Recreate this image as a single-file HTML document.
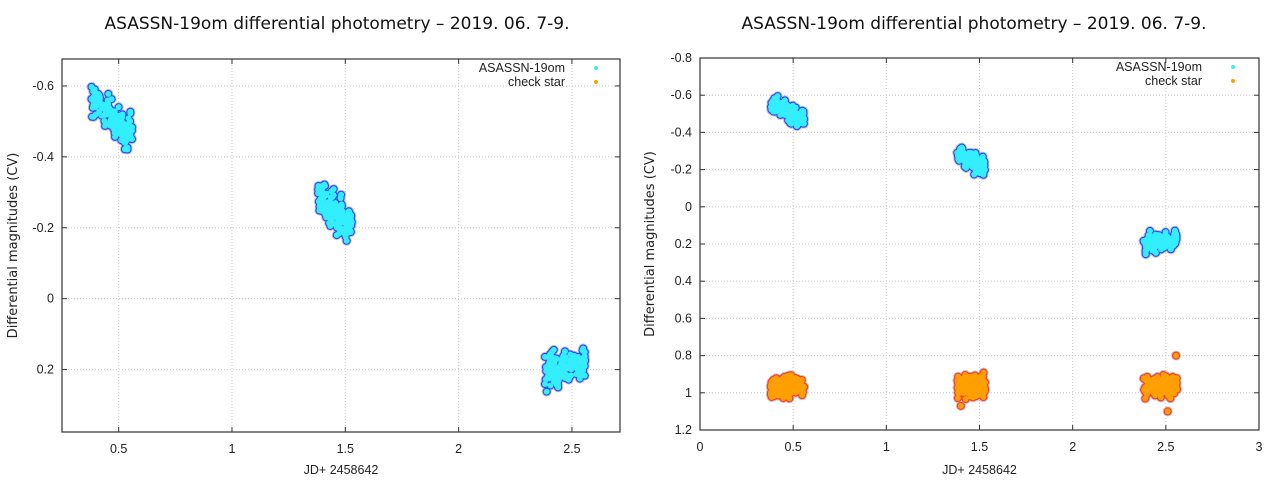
<!DOCTYPE html>
<html><head><meta charset="utf-8"><style>
body{margin:0;background:#fff;}
svg{display:block;font-family:"Liberation Sans","DejaVu Sans",sans-serif;}
</style></head><body>
<svg id="s" width="1280" height="480" xmlns="http://www.w3.org/2000/svg">
<rect width="1280" height="480" fill="#fff"/>
<g id="g"></g>
</svg>
<script>
const NS="http://www.w3.org/2000/svg";
const g=document.getElementById('g');
function el(t,a,txt){const e=document.createElementNS(NS,t);for(const k in a)e.setAttribute(k,a[k]);if(txt!==undefined)e.textContent=txt;g.appendChild(e);return e;}
let seed=7;function rnd(){seed=(seed*16807)%2147483647;return seed/2147483647;}
function gauss(){return (rnd()+rnd()+rnd()-1.5)/1.5;}
function chart(o){
 const X=v=>o.x0+(v-o.xa)/(o.xb-o.xa)*(o.x1-o.x0);
 const Y=v=>o.y0+(v-o.ya)/(o.yb-o.ya)*(o.y1-o.y0);
 o.xt.forEach(t=>{const x=X(t);if(x>o.x0+1&&x<o.x1-1)el('line',{x1:x,y1:o.y0,x2:x,y2:o.y1,stroke:'#c8c8c8','stroke-dasharray':'1,2'});});
 o.yt.forEach(t=>{const y=Y(t);if(y>o.y0+1&&y<o.y1-1)el('line',{x1:o.x0,y1:y,x2:o.x1,y2:y,stroke:'#c8c8c8','stroke-dasharray':'1,2'});});
 o.xt.forEach(t=>{const x=X(t);el('line',{x1:x,y1:o.y1,x2:x,y2:o.y1-5,stroke:'#333'});el('line',{x1:x,y1:o.y0,x2:x,y2:o.y0+5,stroke:'#333'});
  el('text',{x:x,y:o.y1+21,'text-anchor':'middle','font-size':12.5,fill:'#222'},String(t));});
 o.yt.forEach(t=>{const y=Y(t);el('line',{x1:o.x0,y1:y,x2:o.x0+5,y2:y,stroke:'#333'});el('line',{x1:o.x1,y1:y,x2:o.x1-5,y2:y,stroke:'#333'});
  el('text',{x:o.x0-8,y:y+4,'text-anchor':'end','font-size':12.5,fill:'#222'},String(t));});
 const clusters=[[0.38,0.56,-0.56,-0.46],[1.38,1.53,-0.29,-0.2],[2.38,2.56,0.2,0.18]];
 const series=[];
 clusters.forEach(c=>{for(let i=0;i<160;i++){const f=rnd();const x=c[0]+f*(c[1]-c[0]);const y=c[2]+f*(c[3]-c[2])+gauss()*0.06+0.015*Math.sin(f*25);series.push([x,y,0]);}});
 if(o.check){clusters.forEach(c=>{for(let i=0;i<170;i++){const f=rnd();const x=c[0]+f*(c[1]-c[0]);const y=0.965+gauss()*0.08;series.push([x,y,1]);}});series.push([2.555,0.8,1]);series.push([2.51,1.1,1]);series.push([1.4,1.07,1]);}
 series.forEach(p=>el('circle',{cx:X(p[0]),cy:Y(p[1]),r:5,fill:'#c4c4c4'}));
 series.forEach(p=>el('circle',{cx:X(p[0]),cy:Y(p[1]),r:4,fill:p[2]?'#ff3030':'#2a3cff'}));
 series.forEach(p=>el('circle',{cx:X(p[0]),cy:Y(p[1]),r:3,fill:p[2]?'#ffa000':'#33eeff'}));
 el('rect',{x:o.x0,y:o.y0,width:o.x1-o.x0,height:o.y1-o.y0,fill:'none',stroke:'#333','stroke-width':1.2});
 el('text',{x:o.lx,y:o.y0+13,'text-anchor':'end','font-size':12.5,fill:'#222'},'ASASSN-19om');
 el('text',{x:o.lx,y:o.y0+27,'text-anchor':'end','font-size':12.5,fill:'#222'},'check star');
 el('circle',{cx:o.lx+31,cy:o.y0+9,r:2,fill:'#33eeff'});
 el('circle',{cx:o.lx+31,cy:o.y0+23,r:2,fill:'#ffa000'});
 el('text',{x:o.tx,y:29,'text-anchor':'middle','font-size':17,fill:'#111','font-family':'DejaVu Sans, sans-serif'},'ASASSN-19om differential photometry – 2019. 06. 7-9.');
 el('text',{x:(o.x0+o.x1)/2,y:474,'text-anchor':'middle','font-size':12.5,fill:'#222'},'JD+ 2458642');
 const cy=(o.y0+o.y1)/2;
 el('text',{x:o.ylx,y:cy,'text-anchor':'middle','font-size':13,fill:'#222','font-family':'DejaVu Sans, sans-serif',transform:`rotate(-90 ${o.ylx} ${cy})`},'Differential magnitudes (CV)');
}
chart({x0:62,x1:620,y0:59,y1:432,xa:0.25,xb:2.712,ya:-0.676,yb:0.376,xt:[0.5,1,1.5,2,2.5],yt:[-0.6,-0.4,-0.2,0,0.2],lx:565,tx:337,ylx:17,check:false});
chart({x0:700,x1:1259,y0:58,y1:430,xa:0,xb:3,ya:-0.8,yb:1.2,xt:[0,0.5,1,1.5,2,2.5,3],yt:[-0.8,-0.6,-0.4,-0.2,0,0.2,0.4,0.6,0.8,1,1.2],lx:1202,tx:974,ylx:654,check:true});
</script>
</body></html>
